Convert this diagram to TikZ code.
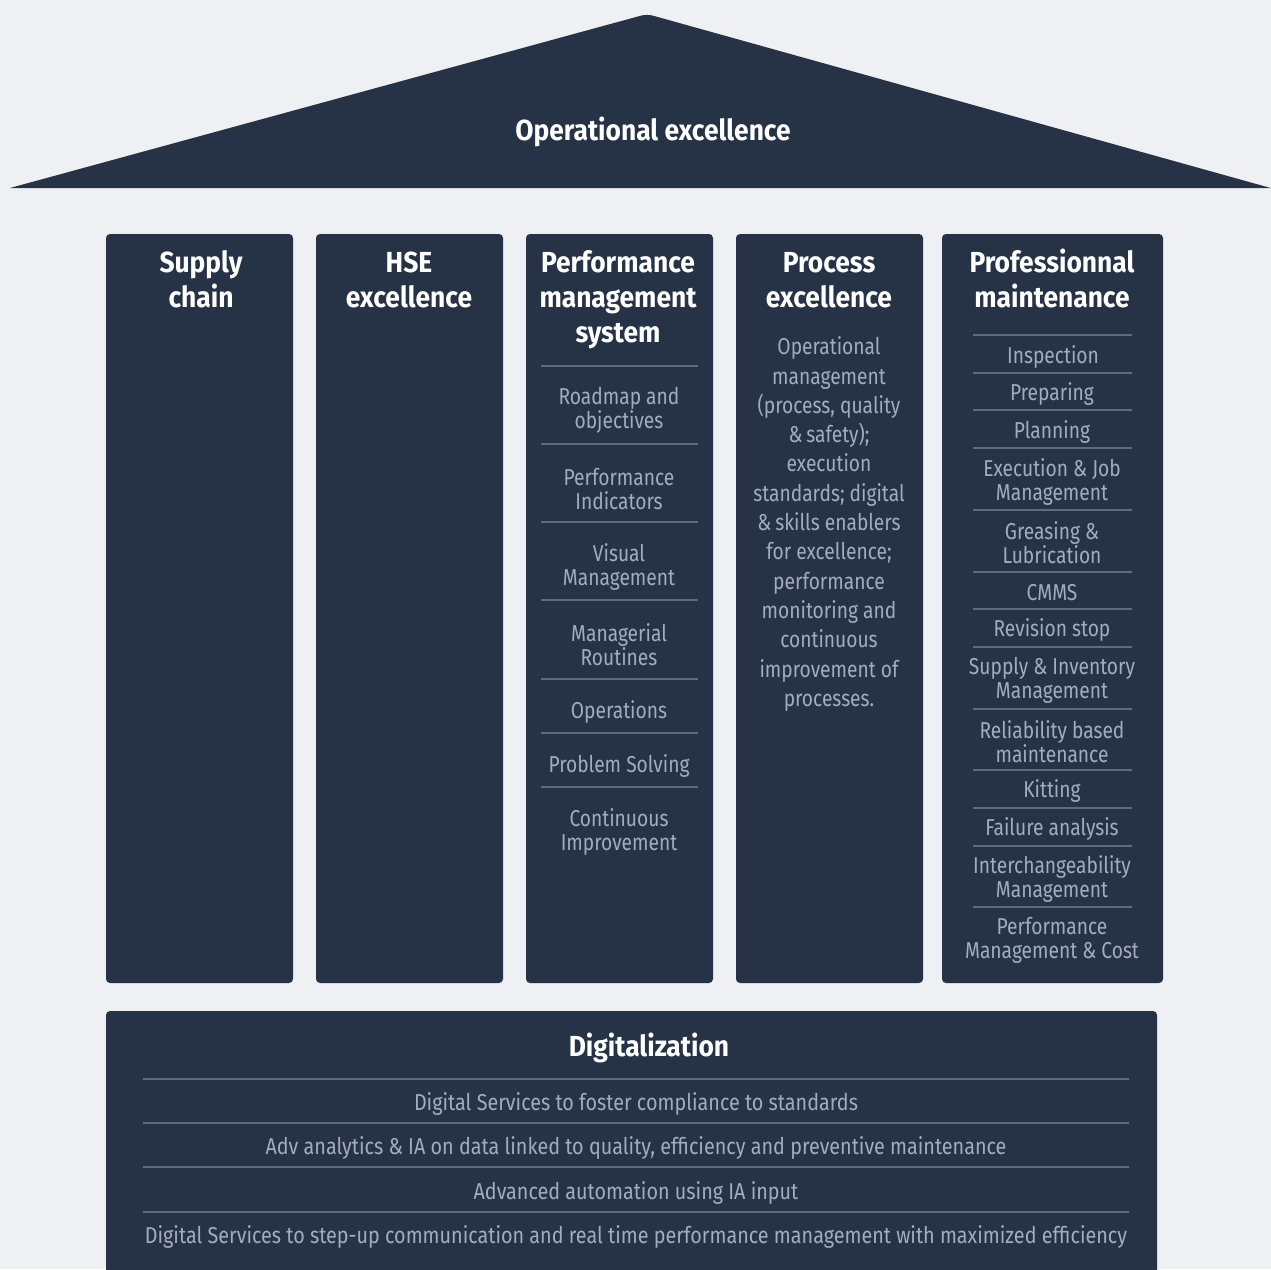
\documentclass[tikz,border=0pt]{standalone}
\usepackage{fontspec}
\setmainfont{Fira Sans}[FakeStretch=0.835]
\newfontfamily\headfont{Fira Sans}[FakeStretch=0.91]
\newfontfamily\digfont{Fira Sans}[FakeStretch=0.86]
\definecolor{bgc}{HTML}{EEF0F4}
\definecolor{navy}{HTML}{263246}
\definecolor{itemc}{HTML}{A3ACBF}
\definecolor{sepc}{HTML}{5F6A7D}
\tikzset{
  pillar/.style={fill=navy, rounded corners=4pt},
  ttl/.style={text=white, font=\headfont\bfseries\fontsize{29}{35}\selectfont, align=center, inner sep=0pt, yshift=-2pt},
  item/.style={text=itemc, font=\fontsize{23}{24}\selectfont, align=center, inner sep=0pt, yshift=-2pt},
  drow/.style={text=itemc, font=\digfont\fontsize{23}{24}\selectfont, align=center, inner sep=0pt, yshift=-2pt},
  para/.style={text=itemc, font=\fontsize{23}{29.3}\selectfont, align=center, inner sep=0pt, yshift=-2pt},
  sep/.style={draw=sepc, line width=1.3pt},
}
\begin{document}
\begin{tikzpicture}[x=1pt,y=-1pt]
\useasboundingbox (0,0) rectangle (1271,1269);
\fill[bgc] (0,0) rectangle (1271,1269);
\clip (0,0) rectangle (1271,1269);
% roof
\fill[navy] (10,188) [rounded corners=6pt] -- (647,14) [sharp corners] -- (1285,192) -- (1285,188) -- cycle;
\node[ttl] (roof) at (653,130) {Operational excellence};
% pillars
\path[pillar] (106,234) rectangle (293,983);
\path[pillar] (316,234) rectangle (503,983);
\path[pillar] (526,234) rectangle (713,983);
\path[pillar] (736,234) rectangle (923,983);
\path[pillar] (942,234) rectangle (1163,983);
% titles
\node[ttl] (t1) at (201,277) {Supply\\chain};
\node[ttl] (t2) at (409,277.5) {HSE\\excellence};
\node[ttl] (t3) at (618,298) {Performance\\management\\system};
\node[ttl] (t4) at (829,278.5) {Process\\excellence};
\node[ttl] (t5) at (1052,276.5) {Professionnal\\maintenance};
% column 3
\foreach \y in {366,444,522,600,679,733,787} \draw[sep] (541,\y) -- (698,\y);
\node[item] (p1) at (619,408) {Roadmap and\\objectives};
\node[item] (p2) at (619,487) {Performance\\Indicators};
\node[item] (p3) at (619,565) {Visual\\Management};
\node[item] (p4) at (619,643) {Managerial\\Routines};
\node[item] (p5) at (619,710) {Operations};
\node[item] (p6) at (619,764) {Problem Solving};
\node[item] (p7) at (619,830) {Continuous\\Improvement};
% column 4
\node[para] (q1) at (829,522) {Operational\\management\\(process, quality\\\&\,safety);\\execution\\standards; digital\\\&\,skills enablers\\for excellence;\\performance\\monitoring and\\continuous\\improvement of\\processes.};
% column 5
\foreach \y in {335,373,410,448,510,572,609,647,709,770,808,846,907} \draw[sep] (973,\y) -- (1132,\y);
\node[item] (m1) at (1053,355) {Inspection};
\node[item] (m2) at (1052,392) {Preparing};
\node[item] (m3) at (1052,430) {Planning};
\node[item] (m4) at (1052,479.5) {Execution \& Job\\Management};
\node[item] (m5) at (1052,541) {Greasing \&\\Lubrication};
\node[item] (m6) at (1052,591) {CMMS};
\node[item] (m7) at (1052,628) {Revision stop};
\node[item] (m8) at (1052,678) {Supply \& Inventory\\Management};
\node[item] (m9) at (1052,740) {Reliability based\\maintenance};
\node[item] (m10) at (1052,789) {Kitting};
\node[item] (m11) at (1052,827) {Failure analysis};
\node[item] (m12) at (1052,877) {Interchangeability\\Management};
\node[item] (m13) at (1052,938) {Performance\\Management \& Cost};
% digitalization
\path[pillar] (106,1011) rectangle (1157,1290);
\node[ttl] (dig) at (649,1046) {Digitalization};
\foreach \y in {1079,1123,1167,1212} \draw[sep] (143,\y) -- (1129,\y);
\node[drow] (d1) at (636,1102) {Digital Services to foster compliance to standards};
\node[drow] (d2) at (636,1146) {Adv analytics \& IA on data linked to quality, efficiency and preventive maintenance};
\node[drow] (d3) at (636,1191) {Advanced automation using IA input};
\node[drow] (d4) at (636,1235) {Digital Services to step-up communication and real time performance management with maximized efficiency};
\end{tikzpicture}
\end{document}
